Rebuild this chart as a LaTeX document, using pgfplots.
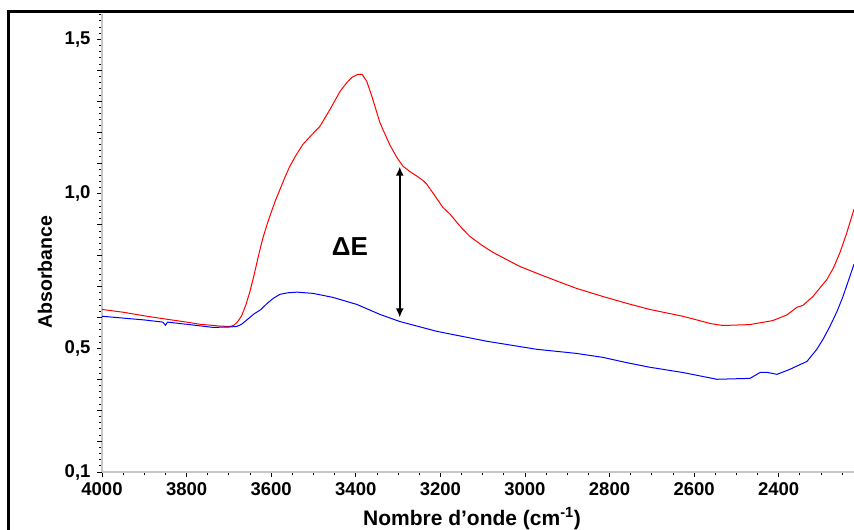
\documentclass[border=0pt]{standalone}
\usepackage{pgfplots}
\pgfplotsset{compat=1.18}
\usepackage{fontspec}
\setmainfont{Liberation Sans}
\usetikzlibrary{arrows.meta}
\begin{document}
\begin{tikzpicture}
\begin{axis}[
  at={(102pt,58pt)}, anchor=south west,
  scale only axis, width=752pt, height=458pt,
  x dir=reverse,
  xmin=2222, xmax=4000, ymin=0.1, ymax=1.582,
  axis x line*=bottom, axis y line*=left,
  axis line style={draw=gray!45, line width=2pt, -},
  xtick={2400,2600,...,4000},
  minor xtick={2250,2300,...,4000},
  ytick={0.1,0.5,1.0,1.5},
  extra y ticks={0.2,0.3,0.4,0.6,0.7,0.8,0.9,1.1,1.2,1.3,1.4},
  extra y tick labels={},
  minor ytick={0.12,0.14,...,1.58},
  tick align=outside,
  major tick length=5pt, minor tick length=3pt,
  tick style={black, line width=0.8pt},
  extra tick style={tick style={black, line width=0.8pt}, major tick length=5pt},
  ticklabel style={font=\fontsize{18.5}{21}\selectfont\bfseries},
  /pgf/number format/assume math mode=true,
  xticklabel style={yshift=-2pt, /pgf/number format/.cd, fixed, precision=0, 1000 sep={}},
  yticklabel style={xshift=-3pt, /pgf/number format/.cd, use comma, fixed, fixed zerofill, precision=1},
]
\addplot[red, line width=1pt] coordinates {
(4000,0.626) (3950,0.617) (3894,0.604) (3850,0.595) (3800,0.585) (3768,0.578) (3720,0.572) (3697,0.571) (3688,0.575) (3680,0.585) (3670,0.605) (3660,0.640) (3650,0.685) (3640,0.740) (3630,0.800) (3620,0.855) (3610,0.900) (3600,0.940) (3590,0.978) (3579,1.015) (3567,1.055) (3556,1.089) (3540,1.128) (3525,1.160) (3505,1.190) (3485,1.218) (3461,1.273) (3437,1.332) (3420,1.362) (3409,1.377) (3395,1.387) (3385,1.387) (3374,1.364) (3362,1.316) (3343,1.231) (3336,1.209) (3320,1.160) (3303,1.118) (3288,1.089) (3270,1.070) (3255,1.057) (3240,1.042) (3232,1.031) (3210,0.988) (3194,0.956) (3177,0.934) (3150,0.890) (3130,0.862) (3100,0.832) (3076,0.811) (3040,0.785) (3012,0.765) (2970,0.742) (2934,0.723) (2880,0.695) (2816,0.668) (2760,0.646) (2705,0.626) (2627,0.604) (2560,0.580) (2532,0.574) (2468,0.577) (2414,0.590) (2381,0.608) (2357,0.633) (2350,0.636) (2343,0.639) (2319,0.668) (2300,0.700) (2286,0.723) (2270,0.762) (2255,0.811) (2240,0.870) (2222,0.950)
};
\addplot[blue, line width=1pt] coordinates {
(4000,0.604) (3950,0.598) (3900,0.592) (3856,0.585) (3850,0.575) (3845,0.585) (3800,0.578) (3738,0.568) (3700,0.569) (3681,0.571) (3670,0.578) (3655,0.595) (3640,0.612) (3625,0.625) (3610,0.645) (3595,0.662) (3579,0.675) (3560,0.680) (3539,0.682) (3501,0.678) (3454,0.665) (3397,0.642) (3343,0.610) (3296,0.587) (3208,0.555) (3090,0.523) (2972,0.497) (2880,0.484) (2816,0.471) (2760,0.454) (2705,0.439) (2627,0.422) (2546,0.400) (2468,0.403) (2444,0.422) (2426,0.422) (2404,0.416) (2374,0.432) (2333,0.458) (2310,0.497) (2295,0.530) (2279,0.571) (2262,0.620) (2248,0.668) (2222,0.772)
};
\draw[{Latex[length=9pt,width=8pt]}-{Latex[length=9pt,width=8pt]}, line width=2.5pt] (axis cs:3296,0.600) -- (axis cs:3296,1.088);
\node[font=\fontsize{26}{30}\selectfont\bfseries] at (axis cs:3414,0.83) {ΔE};
\end{axis}
\node[rotate=90, font=\fontsize{19.5}{22}\selectfont\bfseries] at (45pt,258pt) {Absorbance};
\node[anchor=base, font=\fontsize{21}{24}\selectfont\bfseries] at (472pt,5pt) {Nombre d’onde (cm\textsuperscript{-1})};
\draw[line width=3.5pt] (8.5pt,-30pt) -- (8.5pt,518.5pt) -- (880pt,518.5pt);
\pgfresetboundingbox
\path (0pt,0pt) rectangle (854pt,530pt);
\end{tikzpicture}
\end{document}
